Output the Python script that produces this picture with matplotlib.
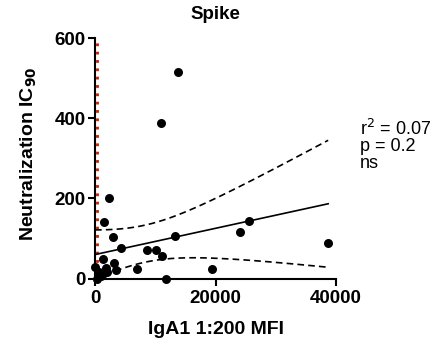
import numpy as np
import matplotlib
matplotlib.use("Agg")
import matplotlib.pyplot as plt

plt.rcParams['font.family'] = ['Liberation Sans', 'DejaVu Sans']

# data
iga1_mfi = [13700, 10900, 2270, 1500, 3000, 4370, 8600, 10100, 11200, 13300,
            24100, 25500, 19400, 11800, 6900, 1300, 3100, 3550, 1750, 2050,
            60, 500, 950, 280, 38700, 700, 1200]
ic90 = [517, 389, 200, 140, 104, 76, 70, 70, 55, 106,
        115, 144, 23, 0, 24, 49, 39, 20, 26, 17,
        28, 10, 5, 0, 88, 15, 8]
threshold_x = 280
xticks = [0, 20000, 40000]
yticks = [0, 200, 400, 600]
stats_text = "r$^2$ = 0.07\np = 0.2\nns"

x = np.array(iga1_mfi, float)
y = np.array(ic90, float)
n = len(x)
b, a = np.polyfit(x, y, 1)
xs = np.linspace(0, x.max(), 200)
yfit = a + b * xs
res = y - (a + b * x)
s = np.sqrt(np.sum(res**2) / (n - 2))
tval = 2.06
half = tval * s * np.sqrt(1.0 / n + (xs - x.mean())**2 / np.sum((x - x.mean())**2))

fig = plt.figure(figsize=(4.4, 3.47), dpi=100)
ax = fig.add_axes([95/440, 1-278.5/347, (336-95)/440, (278.5-38.3)/347])

ax.plot([threshold_x, threshold_x], [0, 600], linestyle=(0, (1, 2)), color='#c81e00',
        linewidth=2.0, clip_on=False, zorder=1)
ax.plot(xs, yfit, color='black', linewidth=1.2, zorder=2)
ax.plot(xs, yfit + half, color='black', linewidth=1.2, linestyle=(0, (4, 2.5)), zorder=2)
ax.plot(xs, yfit - half, color='black', linewidth=1.2, linestyle=(0, (4, 2.5)), zorder=2)
ax.scatter(x, y, s=42, color='black', zorder=3, clip_on=False, linewidths=0)

ax.set_xlim(0, 40000)
ax.set_ylim(0, 600)
ax.set_xticks(xticks)
ax.set_yticks(yticks)
for sp in ['top', 'right']:
    ax.spines[sp].set_visible(False)
for sp in ['left', 'bottom']:
    ax.spines[sp].set_linewidth(1.5)
ax.tick_params(axis='x', width=1.5, length=5, labelsize=13.5, pad=3)
ax.tick_params(axis='y', width=1.5, length=5, labelsize=13.5, pad=1.5)
for lab in ax.get_xticklabels() + ax.get_yticklabels():
    lab.set_fontweight('bold')

ax.set_title("Spike", fontsize=13.5, fontweight='bold', pad=14)
ax.set_xlabel("IgA1 1:200 MFI", fontsize=14, fontweight='bold', labelpad=10)
ax.set_ylabel("Neutralization IC$_{\\mathbf{90}}$", fontsize=14, fontweight='bold')
ax.yaxis.set_label_coords(-0.232, 0.518)

fig.text(360/440, 1-119/347, stats_text, fontsize=13, va='top', ha='left', linespacing=0.95)

fig.savefig("out.png", dpi=100)
